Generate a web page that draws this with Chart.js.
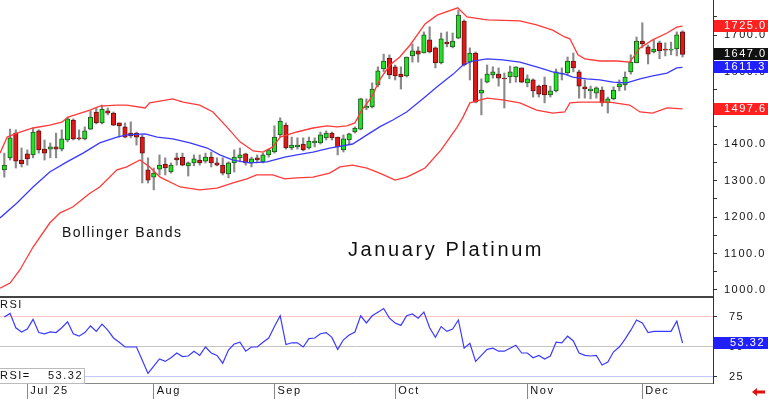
<!DOCTYPE html>
<html>
<head>
<meta charset="utf-8">
<script src="https://cdn.jsdelivr.net/npm/chart.js@4.4.0/dist/chart.umd.min.js"></script>
<style>
  html, body { margin: 0; padding: 0; background: #fff; }
  #wrap { position: relative; width: 768px; height: 399px; overflow: hidden; background: #fff; }
  #price { position: absolute; left: 0; top: 0; }
  #rsi { position: absolute; left: 0; top: 298px; }
</style>
</head>
<body>
<div id="wrap">
  <canvas id="price" width="768" height="298"></canvas>
  <canvas id="rsi" width="768" height="101"></canvas>
</div>
<script>
// daily candles, Jun 25 .. Dec 9 (index = trading day)
const candleOpen = [1330,1363,1431,1357,1374,1371,1437,1387,1387,1393,1387,1412,1467,1418,1415,1442,1489,1459,1492,1486,
  1459,1448,1431,1431,1420,1330,1310,1332,1346,1324,1363,1365,1341,1349,1357,1354,1365,1349,1343,1319,
  1349,1363,1374,1349,1363,1352,1371,1379,1426,1453,1390,1393,1401,1390,1404,1404,1418,1431,1420,1385,
  1412,1434,1442,1500,1503,1563,1607,1637,1613,1593,1588,1643,1657,1651,1687,1665,1624,1681,1668,1692,
  1739,1626,1651,1541,1571,1591,1593,1582,1585,1585,1610,1569,1577,1560,1563,1536,1547,1593,1596,1629,
  1599,1558,1547,1541,1549,1514,1525,1558,1563,1599,1624,1684,1668,1654,1679,1662,1659,1662,1709];
const candleHigh = [1376,1442,1440,1390,1385,1445,1440,1412,1404,1431,1440,1475,1470,1440,1448,1492,1500,1508,1500,1489,
  1459,1459,1462,1434,1426,1363,1335,1371,1363,1349,1376,1376,1352,1371,1371,1376,1379,1363,1363,1352,
  1385,1390,1376,1365,1371,1376,1387,1451,1473,1459,1420,1418,1418,1420,1418,1434,1437,1434,1420,1426,
  1431,1448,1527,1525,1569,1613,1648,1646,1618,1613,1640,1676,1668,1709,1723,1668,1706,1709,1706,1769,
  1742,1665,1654,1580,1618,1613,1610,1596,1615,1613,1610,1591,1580,1563,1585,1560,1607,1610,1640,1651,
  1604,1577,1560,1558,1558,1530,1558,1577,1599,1646,1695,1734,1673,1687,1684,1679,1681,1709,1712];
const candleLow = [1310,1357,1335,1338,1343,1363,1376,1357,1363,1363,1382,1407,1412,1412,1412,1440,1456,1456,1481,1451,
  1420,1418,1418,1398,1294,1294,1275,1316,1316,1321,1343,1341,1313,1341,1343,1349,1338,1341,1316,1308,
  1324,1352,1343,1338,1349,1349,1365,1376,1420,1387,1385,1387,1382,1387,1393,1401,1412,1412,1371,1379,
  1401,1431,1440,1495,1500,1558,1599,1580,1577,1552,1585,1626,1626,1651,1651,1610,1621,1668,1665,1690,
  1615,1577,1514,1481,1569,1582,1560,1500,1569,1571,1569,1558,1530,1530,1514,1530,1544,1577,1591,1599,
  1527,1527,1525,1527,1505,1486,1522,1547,1549,1593,1624,1665,1621,1651,1635,1643,1646,1643,1640];
const candleClose = [1343,1418,1354,1346,1360,1434,1385,1376,1393,1387,1415,1470,1415,1415,1437,1475,1459,1497,1486,1453,
  1451,1420,1423,1420,1376,1302,1321,1343,1335,1343,1357,1343,1349,1360,1349,1365,1349,1343,1321,1349,
  1365,1371,1349,1360,1357,1371,1385,1420,1464,1390,1398,1398,1385,1409,1409,1426,1431,1418,1393,1415,
  1429,1445,1525,1505,1552,1602,1629,1591,1588,1585,1640,1657,1648,1701,1654,1624,1690,1676,1684,1755,
  1618,1651,1516,1549,1593,1599,1582,1580,1599,1613,1571,1580,1547,1538,1536,1547,1599,1596,1629,1610,
  1560,1552,1552,1555,1514,1525,1549,1566,1585,1626,1684,1676,1648,1662,1657,1659,1662,1701,1647];

// Bollinger bands: [day index, price]
const upperBand = [[-0.75,1376],[0.5,1420],[2.2,1431],[5,1445],[7.9,1453],[10,1461],[11.1,1475],[14.9,1494],[16.6,1505],
  [19.6,1508],[21.3,1508],[24.5,1500],[25.3,1514],[29.3,1525],[31.1,1516],[34,1508],[36.3,1489],[38.7,1448],[41,1407],
  [43.3,1382],[45,1379],[46.7,1393],[48,1420],[50.9,1434],[53.7,1445],[56.1,1451],[57.9,1448],[59.6,1451],[61,1459],
  [62.2,1494],[63.9,1530],[65.3,1577],[67.1,1618],[68.8,1640],[70.6,1673],[73.2,1731],[75.3,1755],[78.9,1775],[80.5,1750],
  [84,1742],[89.7,1739],[92.6,1728],[95.4,1714],[97.5,1695],[98.4,1690],[99.8,1646],[101,1635],[103.6,1629],[106.6,1629],
  [108.8,1626],[110.6,1665],[112.8,1687],[115.3,1706],[117,1722],[118,1725.0]];
const middleBand = [[-0.75,1198],[2.2,1239],[5,1283],[7.9,1324],[10.9,1352],[13.7,1376],[16.6,1404],[19.6,1420],[21.3,1426],
  [24.5,1429],[26.6,1420],[29.3,1415],[32.3,1404],[35.3,1390],[37.5,1371],[39.8,1357],[42.7,1349],[45.7,1352],[48.8,1365],
  [50.9,1371],[53.7,1379],[56.6,1390],[60.6,1401],[63.1,1426],[65.3,1448],[67.6,1467],[70,1489],[73.2,1530],[75.3,1558],
  [78.1,1593],[79.8,1618],[81.5,1629],[84,1635],[86.7,1632],[89.7,1626],[92.6,1613],[95.4,1599],[97.5,1593],[98.9,1585],
  [101.3,1580],[103.6,1577],[105.9,1571],[108.3,1569],[110.6,1580],[112.8,1588],[115.3,1596],[117,1610],[118,1611.3]];
const lowerBand = [[-0.75,1005],[1,1019],[2.7,1055],[5,1118],[7.9,1184],[9.7,1212],[11.9,1228],[14.9,1266],[16.6,1283],
  [19.6,1330],[21.3,1338],[23.6,1357],[25.3,1338],[27.1,1310],[30.6,1283],[34,1275],[37,1280],[39.8,1294],[42.2,1305],
  [43.9,1316],[46.7,1316],[48.8,1305],[50.9,1308],[53.7,1310],[56.6,1321],[58.4,1338],[60.6,1343],[63.1,1335],[65.3,1321],
  [68,1302],[70,1310],[71.8,1324],[73.2,1335],[76,1385],[78.7,1445],[79.8,1475],[81,1514],[84,1527],[86.7,1522],[89.7,1514],
  [92.6,1494],[95.4,1486],[97.5,1489],[98.4,1514],[100.1,1516],[102.4,1516],[105.3,1516],[108.8,1508],[110.6,1489],
  [112.8,1486],[115.3,1500],[118,1497.6]];

const rsiValues = [75,78,66,62.5,65,73,62,61,62.5,62,66,71,61,59,62,67.5,63,69,64,57.5,
  54,50,50,50,39,28,34,40,38,41,45,42,42.5,46.5,43,50,45,43,36.5,47.5,
  52.5,54,46.5,50,50,54,57.5,67,76,52,53.5,53.5,50,57,57.5,61,62,58,48,56,
  60,62.5,76,70,76,79,82,74,70,68,76,77.5,74,79,66,58,67,63,65,72.5,
  49,53,38,43,48,49,46.5,46.5,49,51.5,45,45,41,43,40,42.5,54,53.5,59,55,
  45,43,42.5,43,35,37.5,46,50,56.5,64,72.5,70,62,63,63,63,63,71.5,53.32];

const monthTickIdx = [4, 26, 47, 68, 91, 111];
const monthLabels = ['Jul 25', 'Aug', 'Sep', 'Oct', 'Nov', 'Dec'];
const priceTickValues = [1000,1050,1100,1150,1200,1250,1300,1350,1400,1450,1500,1550,1600,1650,1700,1750];
const rsiTickValues = [25, 50, 75];

const FONT = '"Liberation Sans", Arial, sans-serif';
const UP = '#22e022', DOWN = '#e01818';
const X_MIN = -0.75, X_MAX = 123.3;

function drawText(ctx, text, x, y, size, spacing, color, align) {
  ctx.save();
  ctx.font = size + 'px ' + FONT;
  ctx.letterSpacing = spacing + 'px';
  ctx.fillStyle = color;
  ctx.textAlign = align || 'left';
  ctx.textBaseline = 'middle';
  ctx.fillText(text, x, y);
  ctx.restore();
}

function valueBox(chart, value, text, bg, textX) {
  const ctx = chart.ctx, ys = chart.scales.y;
  const y = Math.round(ys.getPixelForValue(value));
  ctx.save();
  ctx.fillStyle = bg;
  ctx.fillRect(ys.left + 1, y - 6, chart.width - ys.left - 1, 12);
  ctx.restore();
  drawText(ctx, text, textX, y, 11, 1.5, '#fff');
}

const spacingPlugin = {
  id: 'spacing',
  beforeDraw(chart) { chart.ctx.letterSpacing = '1.5px'; }
};

const last = a => a[a.length - 1][1];
const toXY = band => band.map(([x, y]) => ({ x, y }));

new Chart(document.getElementById('price'), {
  type: 'bar',
  data: {
    datasets: [
      { type: 'line', data: toXY(upperBand), borderColor: '#ff3a3a', borderWidth: 1.3, pointRadius: 0, order: 0 },
      { type: 'line', data: toXY(middleBand), borderColor: '#3a3aff', borderWidth: 1.3, pointRadius: 0, order: 0 },
      { type: 'line', data: toXY(lowerBand), borderColor: '#ff3a3a', borderWidth: 1.3, pointRadius: 0, order: 0 },
      {
        data: candleOpen.map((o, i) => ({ x: i, y: [o, candleClose[i]] })),
        backgroundColor: candleOpen.map((o, i) => candleClose[i] >= o ? UP : DOWN),
        borderColor: candleOpen.map((o, i) => candleClose[i] >= o ? '#225522' : '#661111'),
        borderWidth: 1, borderSkipped: false,
        barThickness: 4.5, grouped: false, order: 1
      },
      {
        data: candleLow.map((l, i) => ({ x: i, y: [l, candleHigh[i]] })),
        backgroundColor: '#8a8a8a', borderWidth: 0,
        barThickness: 1.5, grouped: false, order: 2
      }
    ]
  },
  options: {
    responsive: false,
    animation: false,
    events: [],
    layout: { padding: 0 },
    plugins: { legend: { display: false }, tooltip: { enabled: false } },
    scales: {
      x: { type: 'linear', min: X_MIN, max: X_MAX, offset: false, display: false },
      y: {
        position: 'right', min: 978, max: 1796.6,
        afterBuildTicks: s => { s.ticks = priceTickValues.map(v => ({ value: v })); },
        afterFit: s => { s.width = 55; s.paddingTop = 0; s.paddingBottom = 0; },
        grid: { drawOnChartArea: false, tickLength: 4, color: '#333' },
        border: { color: '#333' },
        ticks: {
          padding: 7, color: '#111', font: { family: FONT, size: 11 },
          callback: v => v % 100 === 0 ? v.toFixed(1) : ''
        }
      }
    }
  },
  plugins: [spacingPlugin, {
    id: 'priceDecor',
    afterDraw(chart) {
      const ctx = chart.ctx, area = chart.chartArea;
      drawText(ctx, 'Bollinger Bands', 62, 233, 14, 1.5, '#111');
      drawText(ctx, 'January Platinum', 348, 250, 20, 2.6, '#111');
      valueBox(chart, last(upperBand), last(upperBand).toFixed(1), '#ff2020', 724);
      valueBox(chart, candleClose[candleClose.length - 1], candleClose[candleClose.length - 1].toFixed(1), '#111', 724);
      valueBox(chart, last(middleBand), last(middleBand).toFixed(1), '#2020ff', 724);
      valueBox(chart, last(lowerBand), last(lowerBand).toFixed(1), '#ff2020', 724);
      ctx.save();
      ctx.fillStyle = '#444';
      ctx.fillRect(0, chart.height - 2, area.right, 2);
      ctx.restore();
    }
  }]
});

const rsiGridColor = { 25: '#c4c4ff', 50: '#c4c4c4', 75: '#ffc4c4' };

new Chart(document.getElementById('rsi'), {
  type: 'line',
  data: {
    datasets: [{
      data: rsiValues.map((v, i) => ({ x: i, y: v })),
      borderColor: '#3a3aff', borderWidth: 1.2, pointRadius: 0
    }]
  },
  options: {
    responsive: false,
    animation: false,
    events: [],
    layout: { padding: 0 },
    plugins: { legend: { display: false }, tooltip: { enabled: false } },
    scales: {
      x: {
        type: 'linear', min: X_MIN, max: X_MAX, offset: false, position: 'bottom',
        afterBuildTicks: s => { s.ticks = monthTickIdx.map(v => ({ value: v })); },
        afterFit: s => { s.height = 16; s.paddingLeft = 0; s.paddingRight = 0; },
        grid: { drawOnChartArea: false, tickLength: 16, color: '#888' },
        border: { color: '#888' },
        ticks: {
          autoSkip: false, maxRotation: 0, align: 'start', labelOffset: 3, padding: -15,
          color: '#111', font: { family: FONT, size: 11 },
          callback: v => monthLabels[monthTickIdx.indexOf(v)] || ''
        }
      },
      y: {
        position: 'right', min: 20, max: 90.8,
        afterBuildTicks: s => { s.ticks = rsiTickValues.map(v => ({ value: v })); },
        afterFit: s => { s.width = 55; s.paddingTop = 0; s.paddingBottom = 0; },
        grid: { color: c => rsiGridColor[c.tick && c.tick.value] || '#ccc', tickColor: '#333', tickLength: 4 },
        border: { color: '#333' },
        ticks: { padding: 12, color: '#111', font: { family: FONT, size: 11 } }
      }
    }
  },
  plugins: [spacingPlugin, {
    id: 'rsiDecor',
    afterDraw(chart) {
      const ctx = chart.ctx, area = chart.chartArea;
      const lastRsi = rsiValues[rsiValues.length - 1];
      valueBox(chart, lastRsi, lastRsi.toFixed(2), '#2020ff', 730);
      drawText(ctx, 'RSI', 0, 7, 11, 1.5, '#111');
      ctx.save();
      ctx.fillStyle = '#fff';
      ctx.fillRect(0, area.bottom - 14, 85, 14);
      ctx.strokeStyle = '#bbb';
      ctx.lineWidth = 1;
      ctx.strokeRect(-1, area.bottom - 14.5, 85.5, 15);
      ctx.restore();
      drawText(ctx, 'RSI=', 0, area.bottom - 7, 11, 1.5, '#111');
      drawText(ctx, lastRsi.toFixed(2), 83, area.bottom - 7, 11, 1.5, '#111', 'right');
      // small red arrow at the bottom right
      ctx.save();
      ctx.fillStyle = '#e01010';
      ctx.beginPath();
      ctx.moveTo(752, area.bottom + 9);
      ctx.lineTo(757, area.bottom + 5);
      ctx.lineTo(757, area.bottom + 13);
      ctx.closePath();
      ctx.fill();
      ctx.fillRect(757, area.bottom + 7.5, 8, 3);
      ctx.restore();
    }
  }]
});
</script>
</body>
</html>
